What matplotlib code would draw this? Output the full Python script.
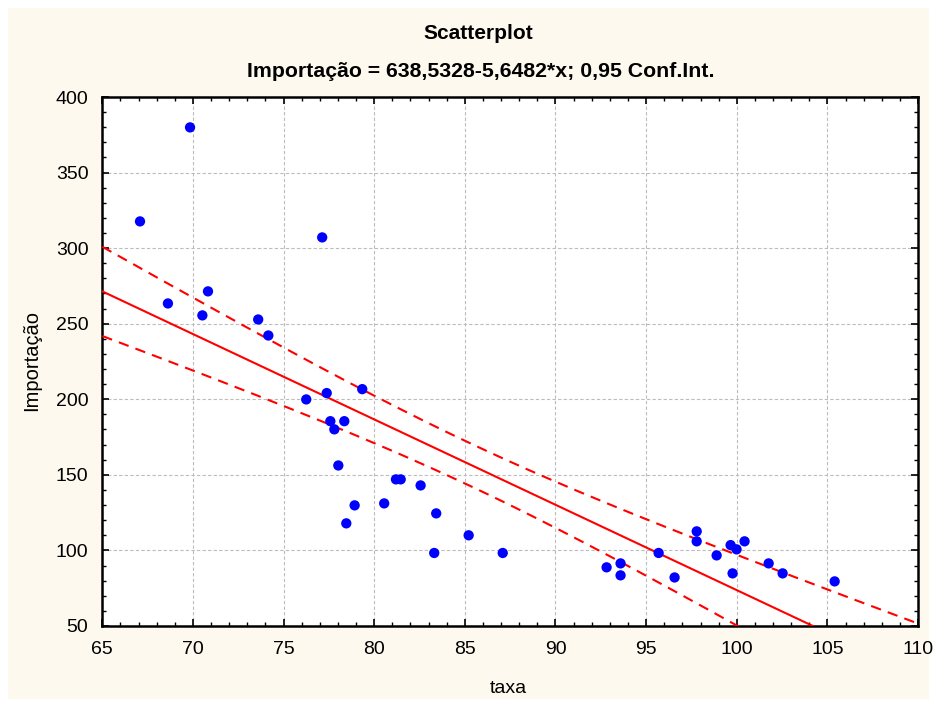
import numpy as np
import matplotlib
matplotlib.use("Agg")
import matplotlib.pyplot as plt
from matplotlib.patches import Rectangle
from matplotlib.ticker import MultipleLocator

# data
taxa = [67.08, 69.84, 68.62, 70.52, 70.83, 73.6, 74.16, 77.13, 76.25, 77.38,
        77.58, 77.8, 78.35, 79.34, 78.02, 78.46, 78.92, 80.55, 81.2, 81.46,
        82.56, 83.42, 83.31, 85.21, 87.09, 92.82, 93.59, 93.59, 95.69, 96.57,
        97.79, 97.79, 98.89, 99.66, 99.99, 99.77, 100.43, 101.76, 102.53, 105.4]
importacao = [317.7, 379.9, 263.4, 255.5, 271.4, 252.8, 242.2, 307.1, 199.9, 204.1,
              185.5, 180.1, 185.5, 206.7, 156.2, 117.9, 129.8, 131.1, 147.0, 147.0,
              143.0, 124.5, 98.3, 110.0, 98.3, 88.8, 91.4, 83.5, 98.3, 82.1,
              112.6, 106.0, 96.7, 103.5, 100.7, 84.8, 106.0, 91.4, 84.8, 79.5]

intercept = 638.5328
slope = -5.6482
t_crit = 2.024  # t(0.975, df=38)

x_ticks = [65, 70, 75, 80, 85, 90, 95, 100, 105, 110]
y_ticks = [50, 100, 150, 200, 250, 300, 350, 400]

x = np.array(taxa)
y = np.array(importacao)
n = len(x)
resid = y - (intercept + slope * x)
s = np.sqrt(np.sum(resid ** 2) / (n - 2))
sxx = np.sum((x - x.mean()) ** 2)
xs = np.linspace(65, 110, 200)
fit = intercept + slope * xs
half = t_crit * s * np.sqrt(1.0 / n + (xs - x.mean()) ** 2 / sxx)

plt.rcParams['font.family'] = ['Liberation Sans', 'DejaVu Sans']

cream = '#fdf9ee'
fig = plt.figure(figsize=(9.36, 7.05), dpi=100)
fig.patch.set_facecolor('white')
fig.patches.append(Rectangle((8 / 936, 6 / 705), 921 / 936, 691 / 705,
                             transform=fig.transFigure, facecolor=cream,
                             edgecolor='none', zorder=-10))

ax = fig.add_axes([0.1093, 0.1121, 0.8715, 0.7503])
ax.set_facecolor('white')

ax.grid(True, which='major', color='#bcbcbc', linestyle=(0, (3, 2)), linewidth=0.8)
ax.set_axisbelow(True)

ax.plot(xs, fit, color='#ff0000', linewidth=1.5, zorder=3)
ax.plot(xs, fit + half, color='#ff0000', linewidth=1.5, linestyle=(0, (5, 3.5)), zorder=3)
ax.plot(xs, fit - half, color='#ff0000', linewidth=1.5, linestyle=(0, (5, 3.5)), zorder=3)
ax.scatter(x, y, s=55, color='#0000ff', edgecolors='none', zorder=4)

ax.set_xlim(65, 110)
ax.set_ylim(50, 400)
ax.set_xticks(x_ticks)
ax.set_yticks(y_ticks)
ax.xaxis.set_minor_locator(MultipleLocator(1))
ax.yaxis.set_minor_locator(MultipleLocator(10))
ax.tick_params(which='both', direction='in', top=True, right=True, color='black')
ax.tick_params(which='major', length=5, width=1.2)
ax.tick_params(which='minor', length=3, width=1)
ax.tick_params(axis='x', which='major', pad=11, labelsize=14)
ax.tick_params(axis='y', which='major', pad=10, labelsize=14)
for sp in ax.spines.values():
    sp.set_linewidth(1.8)
    sp.set_color('black')

fig.text(0.511, 0.952, 'Scatterplot', ha='center', va='center',
         fontsize=15, fontweight='bold')
fig.text(0.514, 0.898, 'Importação = 638,5328-5,6482*x; 0,95 Conf.Int.',
         ha='center', va='center', fontsize=15.3, fontweight='bold')
fig.text(0.5427, 0.0227, 'taxa', ha='center', va='center', fontsize=14)
fig.text(0.034, 0.488, 'Importação', ha='center', va='center', rotation=90,
         fontsize=14.5)

fig.savefig('out.png', dpi=100, facecolor=fig.get_facecolor())
